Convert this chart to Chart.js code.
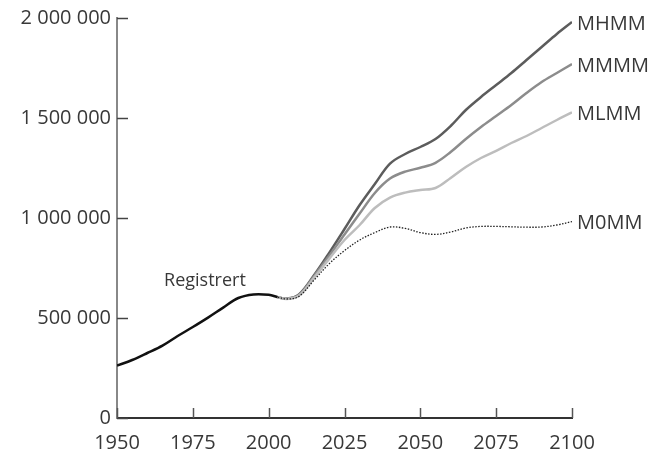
<!DOCTYPE html>
<html lang="no">
<head>
    <meta charset="UTF-8">
    <title>Befolkningsframskriving</title>
    <script src="https://cdn.jsdelivr.net/npm/chart.js"></script>
    <style>
        body {
            margin: 0;
            padding: 0;
            background: #ffffff;
        }

        .chart-container {
            width: 660px;
            height: 452px;
        }
    </style>
</head>
<body>
    <div class="chart-container">
        <canvas id="popChart"></canvas>
    </div>

    <script>
        // Registered population
        const registrertYears = [1950, 1955, 1960, 1965, 1970, 1975, 1980, 1985, 1990, 1995, 2000, 2003];
        const registrert = [262000, 290000, 325000, 362000, 410000, 455000, 502000, 552000, 600000, 618000, 616000, 604000];

        // Projection alternatives
        const projYears = [2003, 2006, 2010, 2015, 2020, 2025, 2030, 2035, 2040, 2045, 2050, 2055, 2060, 2065, 2070, 2075, 2080, 2085, 2090, 2095, 2100];
        const mhmm = [604000, 597000, 618000, 715000, 827000, 945000, 1065000, 1170000, 1272000, 1320000, 1355000, 1395000, 1460000, 1540000, 1605000, 1665000, 1725000, 1790000, 1855000, 1920000, 1980000];
        const mmmm = [604000, 596000, 615000, 710000, 812000, 918000, 1022000, 1125000, 1197000, 1232000, 1251000, 1276000, 1330000, 1395000, 1455000, 1510000, 1565000, 1625000, 1680000, 1725000, 1770000];
        const mlmm = [604000, 595000, 612000, 702000, 797000, 890000, 965000, 1050000, 1102000, 1127000, 1140000, 1150000, 1200000, 1255000, 1300000, 1336000, 1375000, 1410000, 1450000, 1490000, 1528000];
        const m0mm = [604000, 595000, 608000, 690000, 772000, 837000, 890000, 927000, 955000, 948000, 927000, 918000, 930000, 950000, 958000, 958000, 956000, 954000, 955000, 965000, 982000];

        const xTicks = [1950, 1975, 2000, 2025, 2050, 2075, 2100];
        const yTicks = [0, 500000, 1000000, 1500000, 2000000];

        const textColor = '#383838';
        const fontFamily = "'Open Sans', 'Noto Sans', sans-serif";

        function pts(xs, ys) {
            return xs.map((x, i) => ({ x: x, y: ys[i] }));
        }

        function fmt(v) {
            return String(v).replace(/\B(?=(\d{3})+(?!\d))/g, ' ');
        }

        // inside tick marks, end labels and the "Registrert" label
        const annotate = {
            id: 'annotate',
            afterDraw(chart) {
                const { ctx, scales: { x, y } } = chart;
                ctx.save();
                ctx.lineWidth = 1.5;
                ctx.strokeStyle = '#444444';
                yTicks.forEach(v => {
                    const py = Math.round(y.getPixelForValue(v)) + 0.5;
                    ctx.beginPath();
                    ctx.moveTo(x.left, py);
                    ctx.lineTo(x.left + 11, py);
                    ctx.stroke();
                });
                ctx.strokeStyle = '#555555';
                xTicks.forEach(v => {
                    const px = Math.round(x.getPixelForValue(v)) + 0.5;
                    ctx.beginPath();
                    ctx.moveTo(px, y.bottom);
                    ctx.lineTo(px, y.bottom - 10);
                    ctx.stroke();
                });

                ctx.fillStyle = textColor;
                ctx.font = '20px ' + fontFamily;
                ctx.textBaseline = 'middle';
                ctx.textAlign = 'left';
                chart.data.datasets.forEach(ds => {
                    if (!ds.endLabel) return;
                    const last = ds.data[ds.data.length - 1];
                    ctx.fillText(ds.endLabel, x.getPixelForValue(last.x) + 5, y.getPixelForValue(last.y) + 2);
                });

                ctx.font = '18px ' + fontFamily;
                ctx.textAlign = 'center';
                ctx.fillText('Registrert', x.getPixelForValue(1979), y.getPixelForValue(685000));
                ctx.restore();
            }
        };

        const ctx = document.getElementById('popChart').getContext('2d');
        const popChart = new Chart(ctx, {
            type: 'line',
            data: {
                datasets: [
                    {
                        label: 'M0MM',
                        endLabel: 'M0MM',
                        data: pts(projYears, m0mm),
                        borderColor: '#222222',
                        borderWidth: 1.3,
                        borderDash: [1.5, 1.5]
                    },
                    {
                        label: 'MLMM',
                        endLabel: 'MLMM',
                        data: pts(projYears, mlmm),
                        borderColor: '#bdbdbd',
                        borderWidth: 2.5
                    },
                    {
                        label: 'MMMM',
                        endLabel: 'MMMM',
                        data: pts(projYears, mmmm),
                        borderColor: '#8c8c8c',
                        borderWidth: 2.5
                    },
                    {
                        label: 'MHMM',
                        endLabel: 'MHMM',
                        data: pts(projYears, mhmm),
                        borderColor: '#5c5c5c',
                        borderWidth: 2.5
                    },
                    {
                        label: 'Registrert',
                        data: pts(registrertYears, registrert),
                        borderColor: '#111111',
                        borderWidth: 2.5
                    }
                ]
            },
            options: {
                responsive: true,
                maintainAspectRatio: false,
                animation: false,
                events: [],
                layout: {
                    padding: { top: 17, right: 88, left: 0, bottom: 0 }
                },
                elements: {
                    point: { radius: 0 },
                    line: { tension: 0.35, fill: false }
                },
                plugins: {
                    legend: { display: false },
                    tooltip: { enabled: false }
                },
                scales: {
                    x: {
                        type: 'linear',
                        min: 1950,
                        max: 2100,
                        afterFit: s => { s.height = 34; },
                        afterBuildTicks: s => { s.ticks = xTicks.map(v => ({ value: v })); },
                        grid: { drawOnChartArea: false, drawTicks: false },
                        border: { color: '#333333', width: 2 },
                        ticks: {
                            color: textColor,
                            padding: 13,
                            font: { family: fontFamily, size: 20 },
                            maxRotation: 0,
                            callback: v => String(v)
                        }
                    },
                    y: {
                        min: 0,
                        max: 2000000,
                        afterFit: s => { s.width = 117; },
                        afterBuildTicks: s => { s.ticks = yTicks.map(v => ({ value: v })); },
                        grid: { drawOnChartArea: false, drawTicks: false },
                        border: { color: '#888888', width: 2 },
                        ticks: {
                            color: textColor,
                            padding: 6,
                            font: { family: fontFamily, size: 20 },
                            callback: v => fmt(v)
                        }
                    }
                }
            },
            plugins: [annotate]
        });
    </script>
</body>
</html>
